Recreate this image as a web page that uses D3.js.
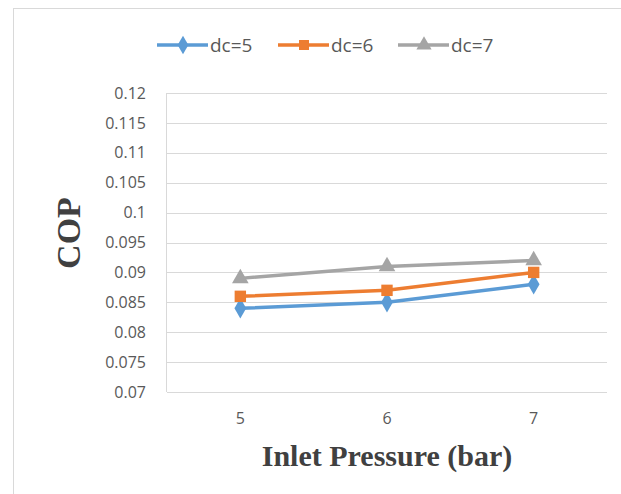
<!DOCTYPE html>
<html>
<head>
<meta charset="utf-8">
<script src="https://cdn.jsdelivr.net/npm/d3@7"></script>
<style>
  body { margin: 0; background: #fff; }
</style>
</head>
<body>
<div id="container"></div>
<script>
//chart data
var pressures = ['5', '6', '7'];
var seriesNames = ['dc=5', 'dc=6', 'dc=7'];
var dc5 = [0.084, 0.085, 0.088];
var dc6 = [0.086, 0.087, 0.090];
var dc7 = [0.089, 0.091, 0.092];
var yTicks = [0.07, 0.075, 0.08, 0.085, 0.09, 0.095, 0.1, 0.105, 0.11, 0.115, 0.12];

var colors = ['#5b9bd5', '#ed7d31', '#a5a5a5'];
var symbols = [d3.symbolDiamond, d3.symbolSquare, d3.symbolTriangle];
var allSeries = [dc5, dc6, dc7];

var w = 621;
var h = 494;
var margin = {top: 93, right: 14, bottom: 102, left: 167};
var tickFont = '"Open Sans", "Noto Sans", sans-serif';

var svg = d3.select('#container')
    .append('svg')
    .attr('width', w)
    .attr('height', h);

//frame around the chart
svg.append('rect')
    .attr('x', 13.5)
    .attr('y', 8.5)
    .attr('width', 700)
    .attr('height', 600)
    .attr('fill', 'none')
    .attr('stroke', '#d9d9d9');

var x = d3.scaleBand()
    .domain(pressures)
    .range([margin.left, w - margin.right]);

var y = d3.scaleLinear()
    .domain([0.07, 0.12])
    .range([h - margin.bottom, margin.top]);

//gridlines
svg.append('g')
    .selectAll('line')
    .data(yTicks)
    .enter()
    .append('line')
    .attr('x1', margin.left)
    .attr('x2', w - margin.right)
    .attr('y1', function(d) { return Math.round(y(d)) + 0.5; })
    .attr('y2', function(d) { return Math.round(y(d)) + 0.5; })
    .attr('stroke', '#d9d9d9')
    .attr('stroke-width', 1);

//left axis line
svg.append('line')
    .attr('x1', margin.left - 0.5)
    .attr('x2', margin.left - 0.5)
    .attr('y1', y(0.12))
    .attr('y2', y(0.07))
    .attr('stroke', '#d9d9d9');

//y axis
var yAxis = d3.axisLeft(y)
    .tickValues(yTicks)
    .tickSize(0)
    .tickPadding(21)
    .tickFormat(function(d) { return String(+d.toFixed(3)); });

svg.append('g')
    .attr('transform', 'translate(' + margin.left + ',0)')
    .call(yAxis)
    .call(function(g) { g.select('.domain').remove(); })
    .selectAll('text')
    .style('font-family', tickFont)
    .style('font-size', '16px')
    .attr('fill', '#595959');

//x axis
var xAxis = d3.axisBottom(x)
    .tickSize(0)
    .tickPadding(21);

svg.append('g')
    .attr('transform', 'translate(0,' + (h - margin.bottom) + ')')
    .call(xAxis)
    .call(function(g) { g.select('.domain').remove(); })
    .selectAll('text')
    .style('font-family', tickFont)
    .style('font-size', '16px')
    .attr('fill', '#595959');

//lines
var line = d3.line()
    .x(function(d, i) { return x(pressures[i]) + x.bandwidth() / 2; })
    .y(function(d) { return y(d); });

allSeries.forEach(function(data, k) {
    svg.append('path')
        .datum(data)
        .attr('fill', 'none')
        .attr('stroke', colors[k])
        .attr('stroke-width', 3.5)
        .attr('d', line);

    svg.selectAll('.marker' + k)
        .data(data)
        .enter()
        .append('path')
        .attr('class', 'marker' + k)
        .attr('d', d3.symbol().type(symbols[k]).size(k === 1 ? 130 : 120))
        .attr('transform', function(d, i) {
            return 'translate(' + (x(pressures[i]) + x.bandwidth() / 2) + ',' + y(d) + ')';
        })
        .attr('fill', colors[k]);
});

//legend
var legendX = [157, 278, 398];
var legend = svg.append('g');
seriesNames.forEach(function(name, k) {
    var g = legend.append('g')
        .attr('transform', 'translate(' + legendX[k] + ',45)');
    g.append('line')
        .attr('x1', 0)
        .attr('x2', 51)
        .attr('stroke', colors[k])
        .attr('stroke-width', 3.5);
    g.append('path')
        .attr('d', d3.symbol().type(symbols[k]).size(100))
        .attr('transform', 'translate(26,0)')
        .attr('fill', colors[k]);
    g.append('text')
        .attr('x', 53)
        .attr('y', 7)
        .text(name)
        .style('font-family', tickFont)
        .style('font-size', '19px')
        .attr('fill', '#595959');
});

//axis titles
svg.append('text')
    .attr('transform', 'translate(80,233) rotate(-90)')
    .attr('text-anchor', 'middle')
    .text('COP')
    .style('font-family', '"Liberation Serif", "DejaVu Serif", serif')
    .style('font-weight', 'bold')
    .style('font-size', '34px')
    .attr('fill', '#404040');

svg.append('text')
    .attr('x', 387)
    .attr('y', 466)
    .attr('text-anchor', 'middle')
    .text('Inlet Pressure (bar)')
    .style('font-family', '"Liberation Serif", "DejaVu Serif", serif')
    .style('font-weight', 'bold')
    .style('font-size', '30px')
    .attr('fill', '#404040');
</script>
</body>
</html>
